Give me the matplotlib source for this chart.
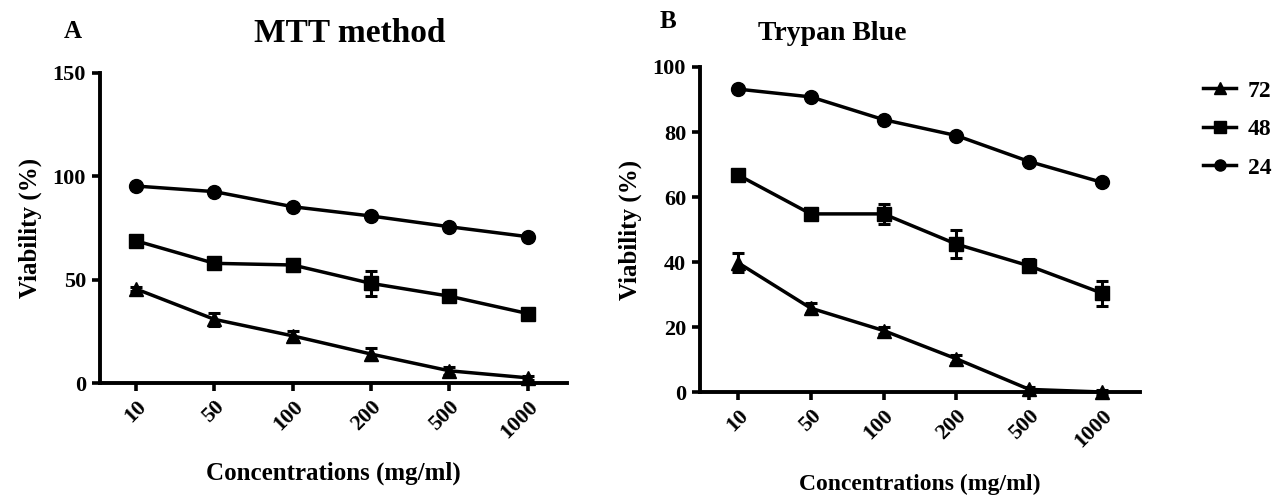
import matplotlib
matplotlib.use("Agg")
import matplotlib.pyplot as plt
from matplotlib.lines import Line2D

plt.rcParams['font.family'] = ['Liberation Serif', 'DejaVu Serif']
plt.rcParams['font.weight'] = 'bold'

concentrations = ["10", "50", "100", "200", "500", "1000"]
series_labels = ["72", "48", "24"]

# MTT method (panel A)
mtt_24 = [95.3, 92.6, 85.3, 80.8, 75.6, 70.8]
mtt_48 = [68.8, 57.9, 57.1, 48.2, 42.0, 33.6]
mtt_72 = [45.5, 30.8, 22.8, 14.0, 5.9, 2.5]
mtt_24_err = [0.8, 0.8, 0.8, 0.8, 0.8, 0.8]
mtt_48_err = [1.0, 1.2, 3.0, 6.0, 2.0, 1.5]
mtt_72_err = [1.0, 3.0, 2.5, 3.0, 2.0, 1.0]

# Trypan Blue (panel B)
tb_24 = [93.2, 90.8, 83.8, 78.9, 70.9, 64.5]
tb_48 = [66.8, 54.8, 54.8, 45.5, 38.8, 30.4]
tb_72 = [39.8, 25.8, 18.9, 10.2, 0.8, 0.0]
tb_24_err = [0.6, 0.6, 0.6, 0.6, 0.6, 0.6]
tb_48_err = [1.0, 1.2, 3.0, 4.2, 2.0, 3.8]
tb_72_err = [3.0, 1.5, 1.2, 1.2, 0.8, 0.5]

fig = plt.figure(figsize=(12.8, 4.98), dpi=100)
axA = fig.add_axes([100/1280, 1-383/498, 467/1280, 310/498])
axB = fig.add_axes([700/1280, 1-392/498, 440/1280, 325/498])

x = list(range(len(concentrations)))
markers = {"72": "^", "48": "s", "24": "o"}

def draw(ax, data, errs, ylim, yticks, xlim):
    for lab in series_labels:
        ax.errorbar(x, data[lab], yerr=errs[lab], color='black', marker=markers[lab],
                    markersize=10, linewidth=2.5, elinewidth=2.2, capsize=4, capthick=2.2,
                    clip_on=False, zorder=3)
    ax.set_xlim(*xlim)
    ax.set_ylim(*ylim)
    ax.set_yticks(yticks)
    ax.set_xticks(x)
    ax.set_xticklabels(concentrations, rotation=45, ha='right', rotation_mode='anchor',
                       fontsize=16, fontweight='bold')
    for t in ax.get_yticklabels():
        t.set_fontsize(16)
        t.set_fontweight('bold')
    for s in ['top', 'right']:
        ax.spines[s].set_visible(False)
    for s in ['left', 'bottom']:
        ax.spines[s].set_linewidth(2.8)
    ax.tick_params(axis='both', width=2.6, length=6, direction='out', pad=4)

draw(axA, {"72": mtt_72, "48": mtt_48, "24": mtt_24},
     {"72": mtt_72_err, "48": mtt_48_err, "24": mtt_24_err},
     (0, 150), [0, 50, 100, 150], (-0.46, 5.5))
draw(axB, {"72": tb_72, "48": tb_48, "24": tb_24},
     {"72": tb_72_err, "48": tb_48_err, "24": tb_24_err},
     (0, 100), [0, 20, 40, 60, 80, 100], (-0.52, 5.52))

axA.set_ylabel("Viability (%)", fontsize=18, fontweight='bold', labelpad=8)
axA.set_xlabel("Concentrations (mg/ml)", fontsize=18, fontweight='bold', labelpad=14)
axB.set_ylabel("Viability (%)", fontsize=18, fontweight='bold', labelpad=8)
axB.set_xlabel("Concentrations (mg/ml)", fontsize=17, fontweight='bold', labelpad=16)

fig.text(350/1280, 1-33/498, "MTT method", fontsize=24, fontweight='bold', ha='center', va='center')
fig.text(73/1280, 1-32/498, "A", fontsize=18, fontweight='bold', ha='center', va='center')
fig.text(832/1280, 1-33/498, "Trypan Blue", fontsize=20, fontweight='bold', ha='center', va='center')
fig.text(668/1280, 1-22/498, "B", fontsize=18, fontweight='bold', ha='center', va='center')

handles = [Line2D([0], [0], color='black', marker=markers[l], markersize=8, linewidth=2.5)
           for l in series_labels]
fig.legend(handles, series_labels, loc='upper left', bbox_to_anchor=(1203/1280, 1-80/498),
           frameon=False, handlelength=1.4, handletextpad=0.5, labelspacing=0.72,
           borderpad=0, borderaxespad=0,
           prop={'weight': 'bold', 'size': 17})

fig.savefig("out.png", dpi=100)
